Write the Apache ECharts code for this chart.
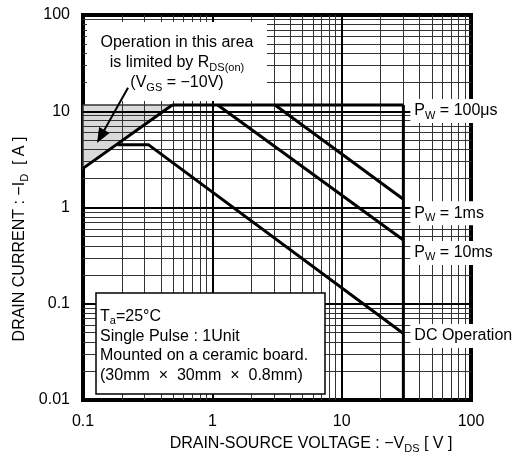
<!DOCTYPE html>
<html>
<head>
<meta charset="utf-8">
<script src="https://cdn.jsdelivr.net/npm/echarts/dist/echarts.min.js"></script>
<style>
  html, body { margin: 0; padding: 0; background: #fff; }
  #main { width: 519px; height: 462px; }
</style>
</head>
<body>
<div id="main"></div>
<script>
// SOA curves, values (V, A)
const rdsLimit = [[0.1, 2.55], [0.49, 11.6]];
const pw100us = [[0.49, 11.6], [30, 11.6]];
const pw1ms = [[3.05, 11.6], [30, 1.22]];
const pw10ms = [[1.1, 11.6], [30, 0.46]];
const dcOperation = [[0.185, 4.5], [0.32, 4.5], [30, 0.049]];
const vdssLimit = [[30, 11.6], [30, 0.01]];
const rdsArea = [[0.1, 2.55], [0.1, 11.6], [0.49, 11.6]];
const arrowFrom = [0.223, 17.5];
const arrowTo = [0.137, 5.47];

// grid lines
const xMajor = [1, 10];
const xMinor = [0.2, 0.3, 0.4, 0.5, 0.6, 0.7, 0.8, 0.9,
  2, 3, 4, 5, 6, 7, 8, 9, 20, 30, 40, 50, 60, 70, 80, 90];
const yMajor = [0.1, 1, 10];
const yMinor = [0.02, 0.03, 0.04, 0.05, 0.06, 0.07, 0.08, 0.09,
  0.2, 0.3, 0.4, 0.5, 0.6, 0.7, 0.8, 0.9,
  2, 3, 4, 5, 6, 7, 8, 9, 20, 30, 40, 50, 60, 70, 80, 90];

const FONT = '"Liberation Sans", Arial, sans-serif';
const sub = { fontSize: 11, fontFamily: FONT, color: '#000', verticalAlign: 'bottom', lineHeight: 10 };
const txt = { fontSize: 16, fontFamily: FONT, color: '#000', lineHeight: 20 };

var chart = echarts.init(document.getElementById('main'));

function gridLine(axis, v, major) {
  let item = { lineStyle: { color: major ? '#000' : '#333', width: major ? 2 : 1, type: 'solid' } };
  item[axis] = v;
  return item;
}

function curve(data, label, dy) {
  let s = {
    type: 'line',
    data: data,
    z: 3,
    symbol: 'none',
    silent: true,
    lineStyle: { color: '#000', width: 3 },
  };
  if (label) {
    s.endLabel = {
      show: true,
      formatter: label,
      distance: 7,
      offset: [0, dy],
      backgroundColor: '#fff',
      padding: [2, 4],
      fontSize: 16,
      fontFamily: FONT,
      color: '#000',
      rich: { n: txt, s: sub },
    };
  }
  return s;
}

let option = {
  backgroundColor: '#fff',
  animation: false,
  grid: {
    left: 83, right: 48, top: 15, bottom: 62,
    show: true, borderColor: '#000', borderWidth: 4,
  },
  xAxis: {
    type: 'log', logBase: 10, min: 0.1, max: 100,
    axisLine: { show: false },
    axisTick: { show: false },
    splitLine: { show: false },
    axisLabel: { fontSize: 16, fontFamily: FONT, color: '#000', margin: 14 },
  },
  yAxis: {
    type: 'log', logBase: 10, min: 0.01, max: 100,
    axisLine: { show: false },
    axisTick: { show: false },
    splitLine: { show: false },
    axisLabel: { fontSize: 16, fontFamily: FONT, color: '#000', margin: 13 },
  },
  series: [
    // shaded Rds(on) limited area
    {
      type: 'custom',
      z: 0,
      silent: true,
      data: [rdsArea[0]],
      renderItem: function (params, api) {
        return {
          type: 'polygon',
          shape: { points: rdsArea.map((p) => api.coord(p)) },
          style: { fill: '#d9d9d9', stroke: '#333', lineWidth: 1.5 },
        };
      },
    },
    // grid
    {
      type: 'line',
      data: [],
      z: 1,
      silent: true,
      markLine: {
        z: 1,
        silent: true,
        animation: false,
        symbol: ['none', 'none'],
        label: { show: false },
        lineStyle: { type: 'solid' },
        data: [].concat(
          xMinor.map((v) => gridLine('xAxis', v, false)),
          yMinor.map((v) => gridLine('yAxis', v, false)),
          xMajor.map((v) => gridLine('xAxis', v, true)),
          yMajor.map((v) => gridLine('yAxis', v, true))
        ),
      },
    },
    curve(rdsLimit),
    curve(vdssLimit),
    curve(pw100us, '{n|P}{s|W}{n| = 100μs}', 6),
    curve(pw1ms, '{n|P}{s|W}{n| = 1ms}', 14),
    curve(pw10ms, '{n|P}{s|W}{n| = 10ms}', 13),
    curve(dcOperation, '{n|DC Operation}', 2.5),
    // arrow to shaded area
    {
      type: 'line',
      data: [],
      z: 5,
      silent: true,
      markLine: {
        z: 5,
        silent: true,
        animation: false,
        symbol: ['none', 'triangle'],
        symbolSize: [12, 15],
        label: { show: false },
        lineStyle: { color: '#000', width: 2, type: 'solid' },
        data: [[{ coord: arrowFrom }, { coord: arrowTo }]],
      },
    },
  ],
  graphic: [
    {
      type: 'rect', z: 2,
      shape: { x: 87, y: 22, width: 180, height: 79 },
      style: { fill: '#fff' },
    },
    {
      type: 'text', z: 6, x: 177, y: 63,
      style: {
        text: 'Operation in this area\nis limited by {n|R}{s|DS(on)}\n({n|V}{s|GS} = −10V)',
        align: 'center', verticalAlign: 'middle',
        fontSize: 16, fontFamily: FONT, fill: '#000', lineHeight: 20,
        rich: { n: txt, s: sub },
      },
    },
    {
      type: 'rect', z: 6,
      shape: { x: 96, y: 293, width: 229, height: 101 },
      style: { fill: '#fff', stroke: '#000', lineWidth: 1.5 },
    },
    {
      type: 'text', z: 7, x: 100, y: 346,
      style: {
        text: '{n|T}{s|a}{n|=25°C}\nSingle Pulse : 1Unit\nMounted on a ceramic board.\n(30mm  ×  30mm  ×  0.8mm)',
        align: 'left', verticalAlign: 'middle',
        fontSize: 16, fontFamily: FONT, fill: '#000', lineHeight: 19.5,
        rich: { n: { fontSize: 16, fontFamily: FONT, lineHeight: 19.5 }, s: sub },
      },
    },
    {
      type: 'text', z: 7, x: 311, y: 444,
      style: {
        text: 'DRAIN-SOURCE VOLTAGE : −{n|V}{s|DS}{n| [ V ]}',
        align: 'center', verticalAlign: 'middle',
        fontSize: 16, fontFamily: FONT, fill: '#000', lineHeight: 20,
        rich: { n: txt, s: sub },
      },
    },
    {
      type: 'text', z: 7, x: 20, y: 239, rotation: Math.PI / 2,
      style: {
        text: 'DRAIN CURRENT : −{n|I}{s|D}{n|  [ A ]}',
        align: 'center', verticalAlign: 'middle',
        fontSize: 16, fontFamily: FONT, fill: '#000', lineHeight: 20,
        rich: { n: txt, s: sub },
      },
    },
  ],
};

chart.setOption(option);
</script>
</body>
</html>
